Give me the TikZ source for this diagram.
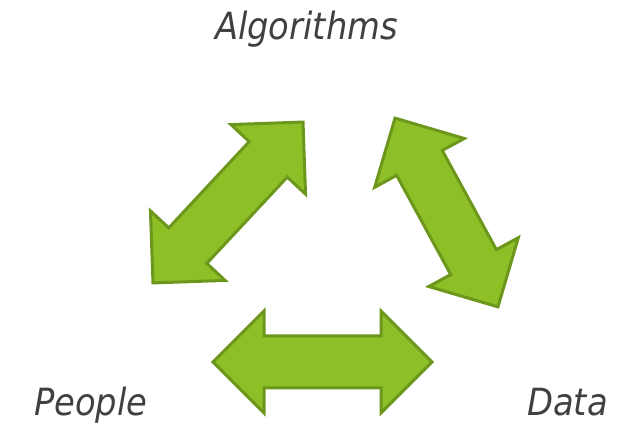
\documentclass[tikz,border=0pt]{standalone}
\usepackage{fontspec}
\setmainfont{DejaVu Sans Condensed}
\usepackage{xcolor}
\usetikzlibrary{shapes.arrows,positioning}
\definecolor{leafgreen}{RGB}{141,192,38}
\definecolor{leafedge}{RGB}{108,151,28}
\definecolor{labelgray}{RGB}{64,64,64}
\begin{document}
\begin{tikzpicture}[x=1pt,y=1pt,
  dblarrow/.style={double arrow,draw=leafedge,fill=leafgreen,line width=3pt,inner xsep=0pt,inner ysep=24.5pt,
    minimum width=99pt,double arrow head extend=25pt,line join=miter},
  lbl/.style={text=labelgray,font=\itshape\fontsize{37.5}{40}\selectfont,inner sep=0pt,anchor=base}]
\useasboundingbox (0,0) rectangle (621,423);
% the three two-way arrows
\node[dblarrow,minimum height=219pt] (peopledata) at (322.5,61) {};
\node[dblarrow,minimum height=220pt,rotate=47] (peoplealgo) at (228,220.5) {};
\node[dblarrow,minimum height=215pt,rotate=-61.4] (algodata) at (446.5,210.5) {};
% labels
\node[lbl] (algo) at (306.5,383) {Algorithms};
\node[lbl,anchor=base west] (people) at (34,8) {People};
\node[lbl,anchor=base east] (data) at (608,8) {Data};
\end{tikzpicture}
\end{document}
